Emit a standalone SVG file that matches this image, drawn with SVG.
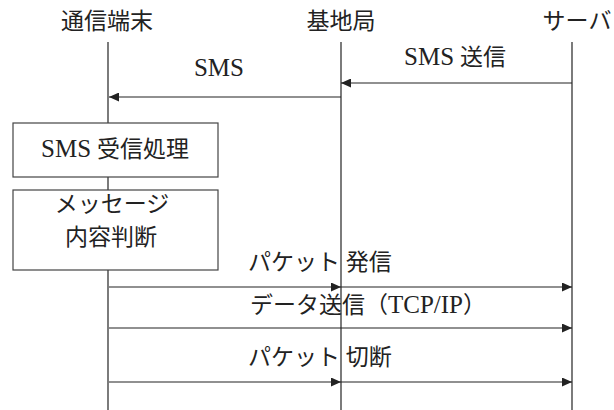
<svg xmlns="http://www.w3.org/2000/svg" width="614" height="410" viewBox="0 0 614 410">
<style>
text{font-family:"Liberation Serif","Noto Sans CJK JP",serif;font-size:23px;fill:#222}
.lat{font-size:25px}
.mid{text-anchor:middle}
.life{stroke:#444;stroke-width:1.4;fill:none}
.msg{stroke:#222;stroke-width:1.2;fill:none}
.box{fill:#fff;stroke:#444;stroke-width:1.2}
</style>
<defs>
<marker id="ah" markerUnits="userSpaceOnUse" markerWidth="10" markerHeight="9" refX="10" refY="4.5" orient="auto">
<path d="M0,0 L10,4.5 L0,9 z" fill="#222"/>
</marker>
</defs>
<rect width="614" height="410" fill="#fff"/>
<g id="lifelines">
<line class="life" x1="108" y1="42" x2="108" y2="410"/>
<line class="life" x1="341" y1="42" x2="341" y2="410"/>
<line class="life" x1="572" y1="42" x2="572" y2="410"/>
</g>
<g id="terminal"><text class="mid" x="107" y="29">通信端末</text></g>
<g id="basestation"><text class="mid" x="341" y="29">基地局</text></g>
<g id="server"><text class="mid" x="577" y="29">サーバ</text></g>
<g id="sms-receive">
<rect class="box" x="13" y="123" width="205" height="54"/>
<text class="mid" x="115" y="157"><tspan class="lat">SMS</tspan> 受信処理</text>
</g>
<g id="message-judge">
<rect class="box" x="13" y="190" width="205" height="80"/>
<text class="mid" x="112" y="212">メッセージ</text>
<text class="mid" x="111" y="245">内容判断</text>
</g>
<g id="connectors">
<line class="msg" x1="572" y1="83" x2="341" y2="83" marker-end="url(#ah)"/>
<line class="msg" x1="341" y1="97" x2="109" y2="97" marker-end="url(#ah)"/>
<line class="msg" x1="109" y1="287" x2="341" y2="287" marker-end="url(#ah)"/>
<line class="msg" x1="341" y1="287" x2="572" y2="287" marker-end="url(#ah)"/>
<line class="msg" x1="109" y1="328" x2="572" y2="328" marker-end="url(#ah)"/>
<line class="msg" x1="109" y1="382" x2="341" y2="382" marker-end="url(#ah)"/>
<line class="msg" x1="341" y1="382" x2="572" y2="382" marker-end="url(#ah)"/>
</g>
<g id="labels">
<text class="mid" x="455" y="65"><tspan class="lat">SMS</tspan> 送信</text>
<text class="mid lat" x="219" y="76">SMS</text>
<text x="248" y="270">パケット 発信</text>
<text x="250" y="313">データ送信（<tspan class="lat">TCP/IP</tspan>）</text>
<text x="248" y="365">パケット 切断</text>
</g>
</svg>
